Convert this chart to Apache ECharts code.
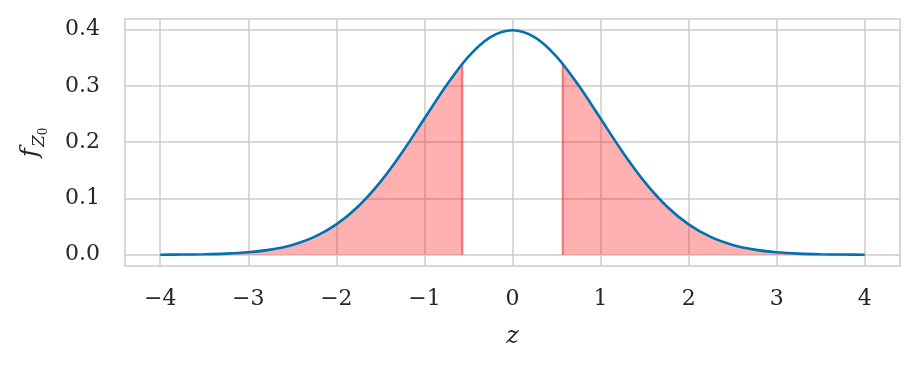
<!DOCTYPE html>
<html>
<head>
<meta charset="utf-8">
<script src="https://cdn.jsdelivr.net/npm/echarts@6/dist/echarts.min.js"></script>
<style>html,body{margin:0;padding:0;background:#fff}#c{width:919px;height:370px}</style>
</head>
<body>
<div id="c"></div>
<script>
// Density curve
const zValues = [-4,-3.75,-3.5,-3.25,-3,-2.75,-2.5,-2.25,-2,-1.75,-1.5,-1.25,-1,-0.75,-0.5,-0.25,0,0.25,0.5,0.75,1,1.25,1.5,1.75,2,2.25,2.5,2.75,3,3.25,3.5,3.75,4];
const fValues = [0.0001,0.0004,0.0009,0.002,0.0044,0.0091,0.0175,0.0317,0.054,0.0863,0.1295,0.1826,0.242,0.3011,0.3521,0.3867,0.3989,0.3867,0.3521,0.3011,0.242,0.1826,0.1295,0.0863,0.054,0.0317,0.0175,0.0091,0.0044,0.002,0.0009,0.0004,0.0001];
// Shaded tail cut-offs and density there
const cutLow = -0.57, cutHigh = 0.57;
const fAtCut = 0.3391;
const xTicks = [-4,-3,-2,-1,0,1,2,3,4];
const yTicks = [0.0,0.1,0.2,0.3,0.4];

const curve = zValues.map((z,i)=>[z,fValues[i]]);
const leftTail = curve.filter(p=>p[0] < cutLow).concat([[cutLow,fAtCut]]);
const rightTail = [[cutHigh,fAtCut]].concat(curve.filter(p=>p[0] > cutHigh));

const FONT = 'DejaVu Serif';
const chart = echarts.init(document.getElementById('c'), null, {renderer:'canvas'});
chart.setOption({
  animation:false,
  backgroundColor:'#ffffff',
  grid:{left:125,right:19,top:19,bottom:104,show:true,borderColor:'#cccccc',borderWidth:1.5,backgroundColor:'transparent'},
  xAxis:{
    type:'value',min:-4.4,max:4.4,
    axisLine:{show:false},
    axisTick:{show:false,customValues:xTicks},
    axisLabel:{customValues:xTicks,fontFamily:FONT,fontSize:22,color:'#262626',margin:22,
      formatter:v=>(v<0?'\u2212'+Math.abs(v):String(v))},
    splitLine:{show:true,lineStyle:{color:'#cccccc',width:1.5}},
    name:'z',nameLocation:'middle',nameGap:59,
    nameTextStyle:{fontFamily:FONT,fontStyle:'italic',fontSize:24,color:'#262626'}
  },
  yAxis:{
    type:'value',min:-0.01995,max:0.41884,
    axisLine:{show:false},
    axisTick:{show:false,customValues:yTicks},
    axisLabel:{customValues:yTicks,fontFamily:FONT,fontSize:22,color:'#262626',margin:25,
      formatter:v=>v.toFixed(1)},
    splitLine:{show:true,lineStyle:{color:'#cccccc',width:1.5}},
    name:'{f|f}{z|Z}{s|0}',nameLocation:'middle',nameGap:75,nameRotate:90,
    nameTextStyle:{
      rich:{
        f:{fontFamily:FONT,fontStyle:'italic',fontSize:25,color:'#262626',verticalAlign:'bottom',lineHeight:30,padding:[0,1,7,0]},
        z:{fontFamily:FONT,fontStyle:'italic',fontSize:17,color:'#262626',verticalAlign:'bottom',lineHeight:17,padding:[0,0,2,0]},
        s:{fontFamily:FONT,fontSize:12,color:'#262626',verticalAlign:'bottom',lineHeight:12,padding:[0,0,0,0]}
      }
    }
  },
  series:[
    {type:'line',data:leftTail,smooth:0.3,symbol:'none',lineStyle:{width:0},
     areaStyle:{color:'rgba(255,0,0,0.31)',opacity:1,origin:0},z:3},
    {type:'line',data:rightTail,smooth:0.3,symbol:'none',lineStyle:{width:0},
     areaStyle:{color:'rgba(255,0,0,0.31)',opacity:1,origin:0},z:3},
    {type:'line',data:[[cutLow,0],[cutLow,fAtCut]],symbol:'none',lineStyle:{color:'rgba(255,0,0,0.5)',width:2},z:4},
    {type:'line',data:[[cutHigh,0],[cutHigh,fAtCut]],symbol:'none',lineStyle:{color:'rgba(255,0,0,0.5)',width:2},z:4},
    {type:'line',data:curve,smooth:0.3,symbol:'none',lineStyle:{color:'#0072b2',width:2.6},z:5}
  ]
});
</script>
</body>
</html>
